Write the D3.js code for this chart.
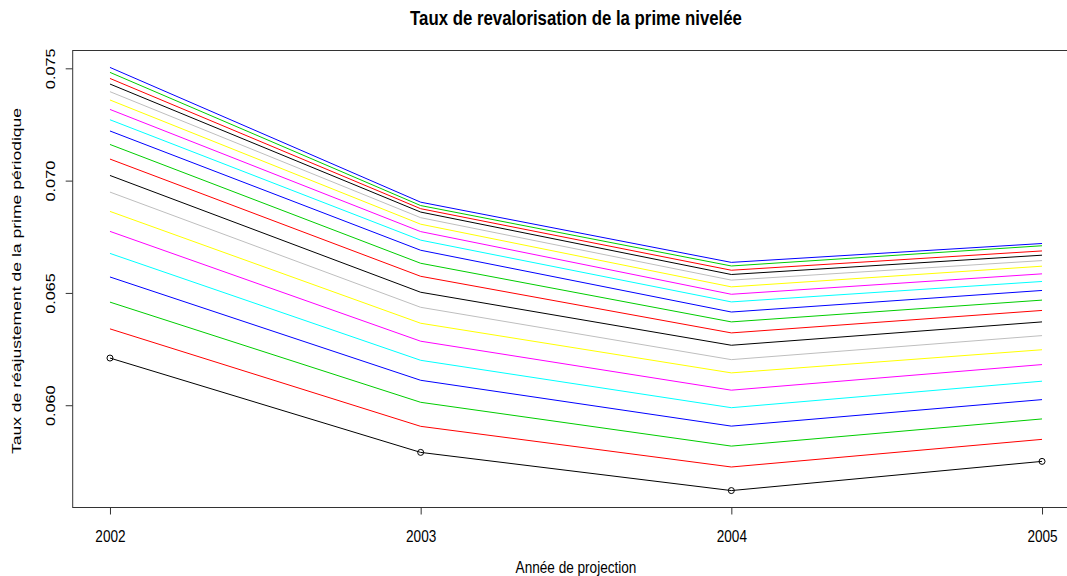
<!DOCTYPE html>
<html>
<head>
<meta charset="utf-8">
<script src="https://cdn.jsdelivr.net/npm/d3@7"></script>
<style>
  html, body { margin: 0; padding: 0; background: #fff; }
  svg { display: block; font-family: "Liberation Sans", Arial, sans-serif; }
</style>
</head>
<body>
<svg id="chart" width="1067" height="576"></svg>
<script>
// Projection years
const years = [2002, 2003, 2004, 2005];

// Rate for each scenario (bottom curve first), one array per year
const rates2002 = [0.06210, 0.06340, 0.06459, 0.06571, 0.06676, 0.06774, 0.06863, 0.06949, 0.07023, 0.07096,
                   0.07161, 0.07221, 0.07271, 0.07317, 0.07359, 0.07396, 0.07430, 0.07455, 0.07482, 0.07504];
const rates2003 = [0.05790, 0.05906, 0.06013, 0.06111, 0.06200, 0.06285, 0.06365, 0.06436, 0.06503, 0.06574,
                   0.06632, 0.06690, 0.06735, 0.06773, 0.06806, 0.06835, 0.06860, 0.06875, 0.06889, 0.06904];
const rates2004 = [0.05620, 0.05725, 0.05818, 0.05907, 0.05989, 0.06067, 0.06144, 0.06203, 0.06267, 0.06322,
                   0.06371, 0.06415, 0.06460, 0.06494, 0.06527, 0.06557, 0.06582, 0.06601, 0.06620, 0.06636];
const rates2005 = [0.05750, 0.05848, 0.05939, 0.06025, 0.06107, 0.06181, 0.06247, 0.06310, 0.06371, 0.06422,
                   0.06468, 0.06511, 0.06551, 0.06585, 0.06619, 0.06644, 0.06668, 0.06687, 0.06710, 0.06720];

// Axis tick labels
const yTicks = [0.060, 0.065, 0.070, 0.075];
const yTickLabels = ["0.060", "0.065", "0.070", "0.075"];

// Line colours, cycled through like R's default palette
const palette = ["#000000", "#FF0000", "#00CD00", "#0000FF", "#00FFFF", "#FF00FF", "#FFFF00", "#BEBEBE"];

const title = "Taux de revalorisation de la prime nivelée";
const xTitle = "Année de projection";
const yTitle = "Taux de réajustement de la prime périodique";

// Build one series per scenario
const byYear = [rates2002, rates2003, rates2004, rates2005];
const series = rates2002.map((_, i) => years.map((yr, j) => ({ year: yr, value: byYear[j][i] })));

const svg = d3.select("#chart");
const plotLeft = 72.7, plotRight = 1079.3, plotTop = 50.5, plotBottom = 507.5;
const font = "'Liberation Sans', Arial, sans-serif";
const vStretch = 1.25;   // glyphs are drawn taller than wide

// Axis limits extended by 4% on each side
const allVals = byYear.flat();
const [vmin, vmax] = d3.extent(allVals);
const vpad = (vmax - vmin) * 0.04;
const xpad = (years[years.length - 1] - years[0]) * 0.04;

const x = d3.scaleLinear()
  .domain([years[0] - xpad, years[years.length - 1] + xpad])
  .range([plotLeft, plotRight]);
const y = d3.scaleLinear()
  .domain([vmin - vpad, vmax + vpad])
  .range([plotBottom, plotTop]);

// Lines
const line = d3.line().x(d => x(d.year)).y(d => y(d.value));
svg.append("g").selectAll("path")
  .data(series)
  .join("path")
  .attr("d", line)
  .attr("fill", "none")
  .attr("stroke", (d, i) => palette[i % palette.length])
  .attr("stroke-width", 1);

// Point markers on the first scenario
svg.append("g").selectAll("circle")
  .data(series[0])
  .join("circle")
  .attr("cx", d => x(d.year))
  .attr("cy", d => y(d.value))
  .attr("r", 3)
  .attr("fill", "none")
  .attr("stroke", "#000")
  .attr("stroke-width", 1);

// Plot frame
svg.append("rect")
  .attr("x", plotLeft).attr("y", plotTop)
  .attr("width", plotRight - plotLeft).attr("height", plotBottom - plotTop)
  .attr("fill", "none").attr("stroke", "#333").attr("stroke-width", 1);

// X axis
const xAxis = d3.axisBottom(x).tickValues(years).tickFormat(d3.format("d")).tickSizeOuter(0).tickSize(7);
const gx = svg.append("g").attr("transform", `translate(0,${plotBottom})`).call(xAxis);
gx.select(".domain").remove();
gx.selectAll(".tick line").attr("stroke", "#333");
gx.selectAll(".tick text")
  .attr("y", null).attr("dy", null)
  .attr("transform", `translate(0,28) scale(1,${vStretch})`)
  .attr("dominant-baseline", "central")
  .attr("font-size", 13.6).attr("fill", "#000")
  .attr("font-family", font);

// Y axis
const yAxis = d3.axisLeft(y).tickValues(yTicks).tickFormat((d, i) => yTickLabels[i]).tickSizeOuter(0).tickSize(7);
const gy = svg.append("g").attr("transform", `translate(${plotLeft},0)`).call(yAxis);
gy.select(".domain").remove();
gy.selectAll(".tick line").attr("stroke", "#333");
gy.selectAll(".tick text")
  .attr("x", 0).attr("dy", null)
  .attr("transform", `translate(-22,0) rotate(-90) scale(${vStretch},1)`)
  .attr("text-anchor", "middle")
  .attr("dominant-baseline", "central")
  .attr("font-size", 13).attr("fill", "#000")
  .attr("font-family", font);

// Titles
svg.append("text")
  .attr("transform", `translate(${(plotLeft + plotRight) / 2},18) scale(1,${vStretch})`)
  .attr("text-anchor", "middle")
  .attr("dominant-baseline", "central")
  .attr("font-size", 16.8).attr("font-weight", "bold")
  .attr("font-family", font)
  .text(title);

svg.append("text")
  .attr("transform", `translate(${(plotLeft + plotRight) / 2},567) scale(1,${vStretch})`)
  .attr("text-anchor", "middle")
  .attr("dominant-baseline", "central")
  .attr("font-size", 13.6)
  .attr("font-family", font)
  .text(xTitle);

svg.append("text")
  .attr("transform", `translate(16,${(plotTop + plotBottom) / 2 + 2}) rotate(-90) scale(1.35,1)`)
  .attr("text-anchor", "middle")
  .attr("dominant-baseline", "central")
  .attr("font-size", 13)
  .attr("font-family", font)
  .text(yTitle);
</script>
</body>
</html>
